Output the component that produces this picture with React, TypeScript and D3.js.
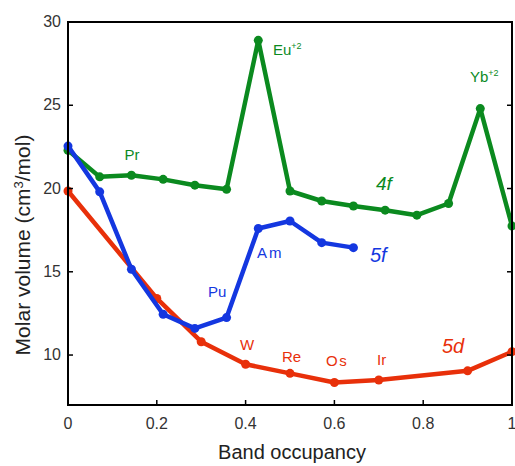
import React from "react";
import * as d3 from "d3";

const f4x = [0, 1/14, 2/14, 3/14, 4/14, 5/14, 6/14, 7/14, 8/14, 9/14, 10/14, 11/14, 12/14, 13/14, 1];
const f4y = [22.3, 20.7, 20.8, 20.55, 20.2, 19.95, 28.9, 19.85, 19.25, 18.95, 18.7, 18.4, 19.1, 24.8, 17.75];
const f5x = [0, 1/14, 2/14, 3/14, 4/14, 5/14, 6/14, 7/14, 8/14, 9/14];
const f5y = [22.55, 19.8, 15.15, 12.45, 11.6, 12.25, 17.6, 18.05, 16.75, 16.45];
const d5x = [0, 0.2, 0.3, 0.4, 0.5, 0.6, 0.7, 0.9, 1.0];
const d5y = [19.85, 13.4, 10.8, 9.45, 8.9, 8.35, 8.5, 9.05, 10.2];
const xTicks = [0, 0.2, 0.4, 0.6, 0.8, 1];
const yTicks = [10, 15, 20, 25, 30];

const GREEN = "#0b8a1f";
const BLUE = "#1437e0";
const RED = "#e8300a";

export default function App() {
  const W = 515, H = 466;
  const x = d3.scaleLinear().domain([0, 1]).range([68, 512]);
  const y = d3.scaleLinear().domain([7, 30]).range([405, 22]);
  const line = d3.line<number>();
  const mk = (xs: number[], ys: number[]) =>
    line(xs.map((v, i) => [x(v), y(ys[i])]) as any) || "";
  const series = [
    { xs: d5x, ys: d5y, c: RED },
    { xs: f4x, ys: f4y, c: GREEN },
    { xs: f5x, ys: f5y, c: BLUE },
  ];
  const font = "Liberation Sans, Arial, sans-serif";
  return (
    <svg width={W} height={H} style={{ position: "absolute", left: 0, top: 0 }} fontFamily={font}>
      <rect x={0} y={0} width={W} height={H} fill="white" />
      {series.map((s, k) => (
        <g key={k}>
          <path d={mk(s.xs, s.ys)} fill="none" stroke={s.c} strokeWidth={4.5} strokeLinejoin="round" />
          {s.xs.map((v, i) => (
            <circle key={i} cx={x(v)} cy={y(s.ys[i])} r={4.5} fill={s.c} />
          ))}
        </g>
      ))}
      <rect x={68} y={22} width={444} height={383} fill="none" stroke="black" strokeWidth={2} />
      {xTicks.map((t) => (
        <g key={t}>
          <line x1={x(t)} x2={x(t)} y1={405} y2={400} stroke="black" strokeWidth={1.5} />
          <text x={x(t)} y={429} fontSize={16} fill="#333" textAnchor="middle">{t}</text>
        </g>
      ))}
      {yTicks.map((t) => (
        <g key={t}>
          <line x1={68} x2={73} y1={y(t)} y2={y(t)} stroke="black" strokeWidth={1.5} />
          <line x1={512} x2={507} y1={y(t)} y2={y(t)} stroke="black" strokeWidth={1.5} />
          <text x={61} y={y(t) + 5} fontSize={16} fill="#333" textAnchor="end">{t}</text>
        </g>
      ))}
      <text x={292} y={459} fontSize={20} fill="#222" textAnchor="middle">Band occupancy</text>
      <text transform="translate(30,245) rotate(-90)" fontSize={21} fill="#222" textAnchor="middle">
        Molar volume (cm<tspan fontSize={13} dy={-7}>3</tspan><tspan dy={7}>/mol)</tspan>
      </text>
      <text x={132} y={160} fontSize={15} fill={GREEN} textAnchor="middle">Pr</text>
      <text x={273} y={55} fontSize={15} fill={GREEN}>Eu<tspan fontSize={9} dy={-6}>+2</tspan></text>
      <text x={470} y={82} fontSize={15} fill={GREEN}>Yb<tspan fontSize={9} dy={-6}>+2</tspan></text>
      <text x={376} y={190} fontSize={19} fill={GREEN} fontStyle="italic">4f</text>
      <text x={370} y={262} fontSize={20} fill={BLUE} fontStyle="italic">5f</text>
      <text x={257} y={258} fontSize={15} fill={BLUE} letterSpacing={2}>Am</text>
      <text x={208} y={297} fontSize={15} fill={BLUE}>Pu</text>
      <text x={240} y={350} fontSize={15} fill={RED}>W</text>
      <text x={282} y={362} fontSize={15} fill={RED}>Re</text>
      <text x={326} y={366} fontSize={15} fill={RED} letterSpacing={1.5}>Os</text>
      <text x={377} y={365} fontSize={15} fill={RED}>Ir</text>
      <text x={442} y={353} fontSize={20} fill={RED} fontStyle="italic">5d</text>
    </svg>
  );
}
